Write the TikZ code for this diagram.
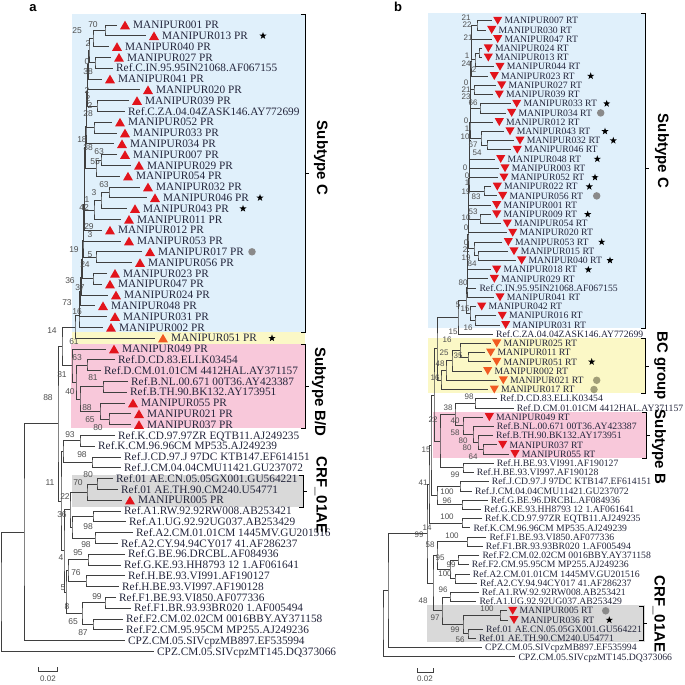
\documentclass[tikz,border=0pt]{standalone}
\usepackage{fontspec}
\setmainfont{Liberation Serif}
\setsansfont{Liberation Sans}
\usepackage{tikz}
\usetikzlibrary{calc,positioning,shapes.geometric}
\definecolor{treeline}{HTML}{3F3F3F}
\definecolor{seqtext}{HTML}{24263C}
\definecolor{bootgray}{HTML}{505050}
\definecolor{softblue}{HTML}{E0F0FB}
\definecolor{softyellow}{HTML}{FBF8C6}
\definecolor{softpink}{HTML}{F8C8DA}
\definecolor{softgray}{HTML}{D9D9D9}
\definecolor{isored}{HTML}{E2141C}
\definecolor{isoorange}{HTML}{F15A22}
\definecolor{dotgray}{HTML}{8A8A8A}
\definecolor{dotolive}{HTML}{A19E78}
\tikzset{
    branch/.style={draw=treeline,line width=0.8pt},
    seqa/.style={anchor=west,inner sep=0pt,text=seqtext,
      font=\fontsize{11.3}{12}\selectfont,text height=7.4pt,text depth=0pt},
    seqb/.style={anchor=west,inner sep=0pt,text=seqtext,
      font=\fontsize{9.7}{10}\selectfont,text height=6.4pt,text depth=0pt},
    upred/.style={regular polygon,regular polygon sides=3,fill=isored,
      minimum size=11.5pt,inner sep=0pt},
    uporange/.style={upred,fill=isoorange},
    downred/.style={regular polygon,regular polygon sides=3,shape border rotate=180,
      fill=isored,minimum size=10.5pt,inner sep=0pt},
    downorange/.style={downred,fill=isoorange},
    starmark/.style={star,star points=5,star point ratio=2.5,fill=black,
      minimum size=7.5pt,inner sep=0pt},
    dotmark/.style={circle,fill=dotgray,minimum size=7.5pt,inner sep=0pt},
    boot/.style={font=\sffamily\fontsize{8.5}{9}\selectfont,text=bootgray,inner sep=0pt},
    bootb/.style={boot,font=\sffamily\fontsize{8}{9}\selectfont},
    groupline/.style={draw=black,line width=0.9pt},
    grouplabel/.style={font=\sffamily\bfseries\fontsize{15}{16}\selectfont,
      rotate=-90,inner sep=0pt},
    panel/.style={font=\sffamily\bfseries\fontsize{13}{14}\selectfont,inner sep=0pt},
    scalebar/.style={draw=treeline,line width=0.8pt}
}
% rows of the two trees
\newcommand{\rowa}[1]{25+(#1-1)*10.8}
\newcommand{\rowb}[1]{20.7+(#1-1)*9.22}
% isolate and reference tips
\newcommand{\isoa}[5][upred]{%
  \coordinate (#2) at (#3,{\rowa{#4}});
  \node[#1] (#2-m) at ([xshift=8pt,yshift=-1.4pt]#2) {};
  \node[seqa] (#2-t) at ([xshift=16pt]#2) {#5};}
\newcommand{\refa}[4]{%
  \coordinate (#1) at (#2,{\rowa{#3}});
  \node[seqa] (#1-t) at ([xshift=3pt]#1) {#4};}
\newcommand{\isob}[5][downred]{%
  \coordinate (#2) at (#3,{\rowb{#4}});
  \node[#1] (#2-m) at ([xshift=6pt,yshift=1.3pt]#2) {};
  \node[seqb] (#2-t) at ([xshift=12.6pt]#2) {#5};}
\newcommand{\refb}[4]{%
  \coordinate (#1) at (#2,{\rowb{#3}});
  \node[seqb] (#1-t) at ([xshift=3pt]#1) {#4};}
% internal node half way between its two children
\newcommand{\clade}[4]{%
  \path let \p1=($(#3)!0.5!(#4)$) in coordinate (#1) at (#2pt,\y1);
  \draw[branch] (#3) -| (#1) |- (#4);}

\begin{document}
\begin{tikzpicture}[x=1pt,y=-1pt]
  \useasboundingbox (0,0) rectangle (685,685);
  \fill[white] (0,0) rectangle (685,685);

  % highlighted groups
  \fill[softblue] (72,14) rectangle (305,332);
  \fill[softyellow] (72,332) rectangle (305,344);
  \fill[softpink] (71,344) rectangle (305,428);
  \fill[softgray] (72,475) rectangle (303,507);
  \fill[softblue] (428,13) rectangle (645,328);
  \fill[softyellow] (428,338) rectangle (645,393);
  \fill[softpink] (433,412) rectangle (646,458);
  \fill[softgray] (427,605) rectangle (645,642);

  \node[panel] (pa) at (33,8) {a};
  \node[panel] (pb) at (398,7) {b};

  % ---- panel a: PR tree
  \isoa{pr001}{117}{1}{MANIPUR001 PR}
  \isoa{pr013}{146}{2}{MANIPUR013 PR}
  \isoa{pr040}{109}{3}{MANIPUR040 PR}
  \isoa{pr027}{111}{4}{MANIPUR027 PR}
  \refa{aCIN}{113}{5}{Ref.C.IN.95.95IN21068.AF067155}
  \isoa{pr041}{102}{6}{MANIPUR041 PR}
  \isoa{pr020}{140}{7}{MANIPUR020 PR}
  \isoa{pr039}{129}{8}{MANIPUR039 PR}
  \refa{aCZA}{125}{9}{Ref.C.ZA.04.04ZASK146.AY772699}
  \isoa{pr052}{112}{10}{MANIPUR052 PR}
  \isoa{pr033}{117}{11}{MANIPUR033 PR}
  \isoa{pr034}{114}{12}{MANIPUR034 PR}
  \isoa{pr007}{117}{13}{MANIPUR007 PR}
  \isoa{pr029}{131}{14}{MANIPUR029 PR}
  \isoa{pr054}{120}{15}{MANIPUR054 PR}
  \isoa{pr032}{140}{16}{MANIPUR032 PR}
  \isoa{pr046}{147}{17}{MANIPUR046 PR}
  \isoa{pr043}{127}{18}{MANIPUR043 PR}
  \isoa{pr011}{121}{19}{MANIPUR011 PR}
  \isoa{pr012}{102}{20}{MANIPUR012 PR}
  \isoa{pr053}{121}{21}{MANIPUR053 PR}
  \isoa{pr017}{142}{22}{MANIPUR017 PR}
  \isoa{pr056}{132}{23}{MANIPUR056 PR}
  \isoa{pr023}{107}{24}{MANIPUR023 PR}
  \isoa{pr047}{102}{25}{MANIPUR047 PR}
  \isoa{pr024}{108}{26}{MANIPUR024 PR}
  \isoa{pr048}{95}{27}{MANIPUR048 PR}
  \isoa{pr031}{107}{28}{MANIPUR031 PR}
  \isoa{pr002}{103}{29}{MANIPUR002 PR}
  \isoa[uporange]{pr051}{155}{30}{MANIPUR051 PR}
  \isoa{pr049}{106}{31}{MANIPUR049 PR}
  \refa{aD1}{115}{32}{Ref.D.CD.83.ELI.K03454}
  \refa{aD2}{101}{33}{Ref.D.CM.01.01CM 4412HAL.AY371157}
  \refa{aB1}{128}{34}{Ref.B.NL.00.671 00T36.AY423387}
  \refa{aB2}{127}{35}{Ref.B.TH.90.BK132.AY173951}
  \isoa{pr055}{125}{36}{MANIPUR055 PR}
  \isoa{pr021}{131}{37}{MANIPUR021 PR}
  \isoa{pr037}{131}{38}{MANIPUR037 PR}
  \refa{aK1}{115}{39}{Ref.K.CD.97.97ZR EQTB11.AJ249235}
  \refa{aK2}{95}{40}{Ref.K.CM.96.96CM MP535.AJ249239}
  \refa{aJ1}{121}{41}{Ref.J.CD.97.J 97DC KTB147.EF614151}
  \refa{aJ2}{121}{42}{Ref.J.CM.04.04CMU11421.GU237072}
  \refa{aAE1}{113}{43}{Ref.01 AE.CN.05.05GX001.GU564221}
  \refa{aAE2}{118}{44}{Ref.01 AE.TH.90.CM240.U54771}
  \isoa{pr005}{122}{45}{MANIPUR005 PR}
  \refa{aA11}{121}{46}{Ref.A1.RW.92.92RW008.AB253421}
  \refa{aA12}{126}{47}{Ref.A1.UG.92.92UG037.AB253429}
  \refa{aA21}{133}{48}{Ref.A2.CM.01.01CM 1445MV.GU201516}
  \refa{aA22}{118}{49}{Ref.A2.CY.94.94CY017 41.AF286237}
  \refa{aG1}{125}{50}{Ref.G.BE.96.DRCBL.AF084936}
  \refa{aG2}{121}{51}{Ref.G.KE.93.HH8793 12 1.AF061641}
  \refa{aH1}{125}{52}{Ref.H.BE.93.VI991.AF190127}
  \refa{aH2}{119}{53}{Ref.H.BE.93.VI997.AF190128}
  \refa{aF11}{116}{54}{Ref.F1.BE.93.VI850.AF077336}
  \refa{aF12}{131}{55}{Ref.F1.BR.93.93BR020 1.AF005494}
  \refa{aF21}{123}{56}{Ref.F2.CM.02.02CM 0016BBY.AY371158}
  \refa{aF22}{123}{57}{Ref.F2.CM.95.95CM MP255.AJ249236}
  \refa{aCPZ1}{125}{58}{CPZ.CM.05.SIVcpzMB897.EF535994}
  \refa{aCPZ2}{154}{59}{CPZ.CM.05.SIVcpzMT145.DQ373066}

  \clade{aC70}{105}{pr001}{pr013}
  \clade{aC25}{93}{aC70}{pr040}
  \clade{aC0}{95}{pr027}{aCIN}
  \clade{aC39}{97}{pr039}{aCZA}
  \clade{aC52}{94}{pr052}{pr033}
  \clade{aC07}{101}{pr007}{pr029}
  \clade{aC55}{96}{aC07}{pr054}
  \clade{aC32}{109}{pr032}{pr046}
  \clade{aC43}{101}{aC32}{pr043}
  \clade{aC11}{94}{aC43}{pr011}
  \clade{aC17}{96}{pr017}{pr056}
  \clade{aC23}{93}{pr023}{pr047}
  \clade{aS1}{89.0}{aC25}{aC0}
  \clade{aS2}{88.4}{aS1}{pr041}
  \clade{aS3}{87.8}{aS2}{pr020}
  \clade{aS4}{87.2}{aS3}{aC39}
  \clade{aS5}{86.6}{aS4}{aC52}
  \clade{aS6}{86.0}{aS5}{pr034}
  \clade{aS7}{85.4}{aS6}{aC55}
  \clade{aS8}{84.8}{aS7}{aC11}
  \clade{aS9}{84.2}{aS8}{pr012}
  \clade{aS10}{83.6}{aS9}{pr053}
  \clade{aS11}{83.0}{aS10}{aC17}
  \clade{aS12}{82.2}{aS11}{aC23}
  \clade{aS13}{81.4}{aS12}{pr024}
  \clade{aS14}{80.6}{aS13}{pr048}
  \clade{aS15}{79.8}{aS14}{pr031}
  \clade{aS16}{79.0}{aS15}{pr002}
  \clade{aCY}{75}{aS16}{pr051}
  \clade{aD}{87}{aD1}{aD2}
  \clade{aB}{103}{aB1}{aB2}
  \clade{aM1}{109}{pr021}{pr037}
  \clade{aM2}{100}{pr055}{aM1}
  \clade{aBM}{80}{aB}{aM2}
  \clade{aDBM}{76}{aD}{aBM}
  \clade{aBD}{72}{pr049}{aDBM}
  \clade{aCBD}{62}{aCY}{aBD}
  \clade{aAEr}{97}{aAE1}{aAE2}
  \clade{aAE}{87}{aAEr}{pr005}
  \clade{aA1}{93}{aA11}{aA12}
  \clade{aA2}{95}{aA21}{aA22}
  \clade{aA}{72}{aA1}{aA2}
  \clade{aAEA}{70}{aAE}{aA}
  \clade{aG}{88}{aG1}{aG2}
  \clade{aH}{86}{aH1}{aH2}
  \clade{aGH}{68}{aG}{aH}
  \clade{aF1}{105}{aF11}{aF12}
  \clade{aF2}{93}{aF21}{aF22}
  \clade{aF}{82}{aF1}{aF2}
  \clade{aGHF}{66}{aGH}{aF}
  \clade{aAG}{64}{aAEA}{aGHF}
  \clade{aJ}{92}{aJ1}{aJ2}
  \clade{aK}{80}{aK1}{aK2}
  \clade{aKJ}{63}{aK}{aJ}
  \clade{a11}{61}{aKJ}{aAG}
  \clade{aIG}{58}{aCBD}{a11}
  \clade{a88}{24}{aIG}{aCPZ1}
  \clade{aRoot}{1}{a88}{aCPZ2}

  \foreach \bx/\by/\bv [count=\k] in {93/25/70,77/31/25,88/44/2,87/62/0,88/72/38,
      87/91/2,88/98.5/2,90/106/2,88/114/28,82/140/18,88/148/38,99/152/63,95/162/55,
      104/185/63,94/193/3,87/200/1,84/208/42,89/227/29,90/235/3,74/250/19,90/255/5,
      85/265/24,70/281/36,80/288/37,67/303/73,77/312/16,52/331/14,74/342/61,
      77/358/63,62/375/31,93/378/81,70/392/40,48/398/88,87/408/88,90/420/65,
      98/428/80,70/435/93,82/455/98,88/475/80,78/483/70,50/483/11,65/497/22,
      62/515/36,88/527/98,86/545/98,78/553/95,61/558/4,76/573/76,63/588/5,
      97/597/99,67/607/8,73/622/65,83/633/87}
    \node[boot] (bsa\k) at (\bx,\by) {\bv};

  \foreach \iso/\px in {pr013/263,pr046/260,pr043/243,pr051/272}
    \node[starmark] (\iso-s) at (\px,0 |- \iso) {};
  \node[dotmark] (pr017-d) at (252,0 |- pr017) {};

  \draw[groupline] (301,14) -- (305,14) -- (305,332) -- (301,332);
  \draw[groupline] (305,173) -- (309,173);
  \draw[groupline] (301,344) -- (305,344) -- (305,428) -- (301,428);
  \draw[groupline] (305,386) -- (309,386);
  \draw[groupline] (299,475) -- (303,475) -- (303,507) -- (299,507);
  \draw[groupline] (303,491) -- (307,491);
  \node[grouplabel] (subCa) at (321,158) {Subtype C};
  \node[grouplabel] (subBDa) at (319,392) {Subtype B/D};
  \node[grouplabel] (crfa) at (321,495) {CRF\_01AE};

  \draw[scalebar] (38,667) -- (38,671) -- (57,671) -- (57,667);
  \node[bootb] (scalea) at (48,679) {0.02};

  % ---- panel b: RT tree
  \isob{rt007}{491.7}{1}{MANIPUR007 RT}
  \isob{rt030}{485.7}{2}{MANIPUR030 RT}
  \isob{rt047}{491.7}{3}{MANIPUR047 RT}
  \isob{rt024}{482.3}{4}{MANIPUR024 RT}
  \isob{rt013}{482.3}{5}{MANIPUR013 RT}
  \isob{rt044}{494}{6}{MANIPUR044 RT}
  \isob{rt023}{488.3}{7}{MANIPUR023 RT}
  \isob{rt027}{495.7}{8}{MANIPUR027 RT}
  \isob{rt039}{493.3}{9}{MANIPUR039 RT}
  \isob{rt033}{510.7}{10}{MANIPUR033 RT}
  \isob{rt034}{505.7}{11}{MANIPUR034 RT}
  \isob{rt012}{493.3}{12}{MANIPUR012 RT}
  \isob{rt043}{504}{13}{MANIPUR043 RT}
  \isob{rt032}{514}{14}{MANIPUR032 RT}
  \isob{rt046}{511.3}{15}{MANIPUR046 RT}
  \isob{rt048}{494.7}{16}{MANIPUR048 RT}
  \isob{rt003}{499}{17}{MANIPUR003 RT}
  \isob{rt052}{498}{18}{MANIPUR052 RT}
  \isob{rt022}{491.3}{19}{MANIPUR022 RT}
  \isob{rt056}{496.7}{20}{MANIPUR056 RT}
  \isob{rt001}{490.7}{21}{MANIPUR001 RT}
  \isob{rt009}{490.7}{22}{MANIPUR009 RT}
  \isob{rt054}{501.3}{23}{MANIPUR054 RT}
  \isob{rt020}{506.7}{24}{MANIPUR020 RT}
  \isob{rt053}{502.3}{25}{MANIPUR053 RT}
  \isob{rt015}{508}{26}{MANIPUR015 RT}
  \isob{rt040}{515.7}{27}{MANIPUR040 RT}
  \isob{rt018}{490.7}{28}{MANIPUR018 RT}
  \isob{rt029}{488.3}{29}{MANIPUR029 RT}
  \refb{bCIN}{476.3}{30}{Ref.C.IN.95.95IN21068.AF067155}
  \isob{rt041}{494}{31}{MANIPUR041 RT}
  \isob{rt042}{475.7}{32}{MANIPUR042 RT}
  \isob{rt016}{496.3}{33}{MANIPUR016 RT}
  \isob{rt031}{499.7}{34}{MANIPUR031 RT}
  \refb{bCZA}{493}{35}{Ref.C.ZA.04.04ZASK146.AY772699}
  \isob[downorange]{rt025}{490.7}{36}{MANIPUR025 RT}
  \isob[downorange]{rt011}{484.7}{37}{MANIPUR011 RT}
  \isob[downorange]{rt051}{490.7}{38}{MANIPUR051 RT}
  \isob[downorange]{rt002}{481.7}{39}{MANIPUR002 RT}
  \isob[downorange]{rt021}{497.3}{40}{MANIPUR021 RT}
  \isob[downorange]{rt017}{488.3}{41}{MANIPUR017 RT}
  \refb{bD1}{497}{42}{Ref.D.CD.83.ELI.K03454}
  \refb{bD2}{513.7}{43}{Ref.D.CM.01.01CM 4412HAL.AY371157}
  \isob{rt049}{483.3}{44}{MANIPUR049 RT}
  \refb{bB1}{493.7}{45}{Ref.B.NL.00.671 00T36.AY423387}
  \refb{bB2}{493}{46}{Ref.B.TH.90.BK132.AY173951}
  \isob{rt037}{496.7}{47}{MANIPUR037 RT}
  \isob{rt055}{509}{48}{MANIPUR055 RT}
  \refb{bH1}{493.7}{49}{Ref.H.BE.93.VI991.AF190127}
  \refb{bH2}{473.7}{50}{Ref.H.BE.93.VI997.AF190128}
  \refb{bJ1}{488.7}{51}{Ref.J.CD.97.J 97DC KTB147.EF614151}
  \refb{bJ2}{472}{52}{Ref.J.CM.04.04CMU11421.GU237072}
  \refb{bG1}{487.7}{53}{Ref.G.BE.96.DRCBL.AF084936}
  \refb{bG2}{481}{54}{Ref.G.KE.93.HH8793 12 1.AF061641}
  \refb{bK1}{482}{55}{Ref.K.CD.97.97ZR EQTB11.AJ249235}
  \refb{bK2}{470.3}{56}{Ref.K.CM.96.96CM MP535.AJ249239}
  \refb{bF11}{486.3}{57}{Ref.F1.BE.93.VI850.AF077336}
  \refb{bF12}{482.7}{58}{Ref.F1.BR.93.93BR020 1.AF005494}
  \refb{bF21}{479.3}{59}{Ref.F2.CM.02.02CM 0016BBY.AY371158}
  \refb{bF22}{468.7}{60}{Ref.F2.CM.95.95CM MP255.AJ249236}
  \refb{bA21}{469.7}{61}{Ref.A2.CM.01.01CM 1445MV.GU201516}
  \refb{bA22}{477}{62}{Ref.A2.CY.94.94CY017 41.AF286237}
  \refb{bA11}{478.7}{63}{Ref.A1.RW.92.92RW008.AB253421}
  \refb{bA12}{476.3}{64}{Ref.A1.UG.92.92UG037.AB253429}
  \isob{rt005}{506.7}{65}{MANIPUR005 RT}
  \isob{rt036}{508}{66}{MANIPUR036 RT}
  \refb{bAE1}{483}{67}{Ref.01 AE.CN.05.05GX001.GU564221}
  \refb{bAE2}{476}{68}{Ref.01 AE.TH.90.CM240.U54771}
  \refb{bCPZ1}{482}{69}{CPZ.CM.05.SIVcpzMB897.EF535994}
  \refb{bCPZ2}{515.3}{70}{CPZ.CM.05.SIVcpzMT145.DQ373066}

  \clade{bU1}{477}{rt007}{rt030}
  \clade{bU3a}{479}{rt024}{rt013}
  \clade{bU3}{475}{bU3a}{rt044}
  \clade{bU5}{474}{rt027}{rt039}
  \clade{bU6}{480}{rt033}{rt034}
  \clade{bU8a}{487}{rt032}{rt046}
  \clade{bU8}{481}{rt043}{bU8a}
  \clade{bU12}{484}{rt022}{rt056}
  \clade{bU14}{480}{rt009}{rt054}
  \clade{bU16a}{478}{rt015}{rt040}
  \clade{bU16}{474}{rt053}{bU16a}
  \clade{bU21a}{475}{rt016}{rt031}
  \clade{bU21}{470}{rt042}{bU21a}
  \clade{bS1}{471.5}{bU1}{rt047}
  \clade{bS2}{471.25}{bS1}{bU3}
  \clade{bS3}{471.0}{bS2}{rt023}
  \clade{bS4}{470.75}{bS3}{bU5}
  \clade{bS5}{470.5}{bS4}{bU6}
  \clade{bS6}{470.25}{bS5}{rt012}
  \clade{bS7}{470.0}{bS6}{bU8}
  \clade{bS8}{469.75}{bS7}{rt048}
  \clade{bS9}{469.5}{bS8}{rt003}
  \clade{bS10}{469.25}{bS9}{rt052}
  \clade{bS11}{469.0}{bS10}{bU12}
  \clade{bS12}{468.75}{bS11}{rt001}
  \clade{bS13}{468.5}{bS12}{bU14}
  \clade{bS14}{468.25}{bS13}{rt020}
  \clade{bS15}{468.0}{bS14}{bU16}
  \clade{bS16}{467.75}{bS15}{rt018}
  \clade{bS17}{467.5}{bS16}{rt029}
  \clade{bS18}{467.25}{bS17}{bCIN}
  \clade{bS19}{467.0}{bS18}{rt041}
  \clade{bS20}{466.0}{bS19}{bU21}
  \clade{bC}{458}{bS20}{bCZA}
  \clade{bV1}{468}{rt011}{rt051}
  \clade{bV2}{460}{rt025}{bV1}
  \clade{bV3}{452}{bV2}{rt002}
  \clade{bV4}{446}{bV3}{rt021}
  \clade{bV5}{441}{bV4}{rt017}
  \clade{bCBC}{437}{bC}{bV5}
  \clade{bD}{475}{bD1}{bD2}
  \clade{bBa}{483}{rt037}{rt055}
  \clade{bBb}{478}{bB2}{bBa}
  \clade{bBc}{473}{bB1}{bBb}
  \clade{bBd}{463}{rt049}{bBc}
  \clade{bDB}{455}{bD}{bBd}
  \clade{bH}{463}{bH1}{bH2}
  \clade{bDBH}{440}{bDB}{bH}
  \clade{bM1}{434}{bCBC}{bDBH}
  \clade{bJ}{460}{bJ1}{bJ2}
  \clade{bG}{462}{bG1}{bG2}
  \clade{bJG}{437}{bJ}{bG}
  \clade{bM2}{431}{bM1}{bJG}
  \clade{bK}{462}{bK1}{bK2}
  \clade{bM3}{429}{bM2}{bK}
  \clade{bF1}{467}{bF11}{bF12}
  \clade{bF2}{458}{bF21}{bF22}
  \clade{bA2}{455}{bA21}{bA22}
  \clade{bF2A2}{450}{bF2}{bA2}
  \clade{bM4}{437}{bF1}{bF2A2}
  \clade{bA1}{450}{bA11}{bA12}
  \clade{bAEa}{500}{rt005}{rt036}
  \clade{bAEb}{468}{bAE1}{bAE2}
  \clade{bAE}{463}{bAEa}{bAEb}
  \clade{bA1AE}{442}{bA1}{bAE}
  \clade{bM5}{433}{bM4}{bA1AE}
  \clade{bIG}{427}{bM3}{bM5}
  \clade{bOut}{388}{bIG}{bCPZ1}
  \clade{bRoot}{383}{bOut}{bCPZ2}

  \foreach \bx/\by/\bv [count=\k] in {466/18/21,467/25/22,468/38/21,467/55.5/1,
      466/64/24,474/70/2,466/83/0,466/90/21,466/97/23,473/103/66,466/120.5/0,
      467/129/1,465/137/10,473/145/67,477/153/54,465/168/0,467/176/0,467/183/1,
      466/192/19,476/197/83,473/212/53,466/218/10,466/228/0,466/243/0,465/250/2,
      466/258/19,472/264/84,463/283/80,458/305/5,465/309/15,453/332/15,
      468/328/16,447/340/16,444/353/25,458/356/35,440/364/48,435/378/16,
      469/397/98,448/408/38,433/420/22,455/421/40,455/433/58,463/441/80,
      467/448/80,473/457/64,426/450/15,455/475/99,423/483/41,447/492/100,
      447/501/96,447/517/100,427/528/14,419/535/99,452/536/100,430/545/58,
      440/558/95,451/565/99,445/574/100,443/590/96,423/601/48,487/609/100,
      435/618/97,455/630/99,460/640/56}
    \node[bootb] (bsb\k) at (\bx,\by) {\bv};

  \foreach \iso/\px in {rt023/590.7,rt033/606.7,rt043/605,rt032/613.3,
      rt048/597.3,rt052/595,rt022/589.3,rt009/587.7,rt053/601.7,rt040/610,
      rt018/588.3,rt051/591.7,rt036/609.3}
    \node[starmark] (\iso-s) at (\px,0 |- \iso) {};
  \foreach \iso/\px in {rt034/600.7,rt056/596.7,rt005/605.7}
    \node[dotmark] (\iso-d) at (\px,0 |- \iso) {};
  \foreach \iso/\px in {rt021/596.7,rt017/594}
    \node[dotmark,fill=dotolive] (\iso-d) at (\px,0 |- \iso) {};

  \draw[groupline] (641,13) -- (645,13) -- (645,328) -- (641,328);
  \draw[groupline] (645,168) -- (649,168);
  \draw[groupline] (641,338) -- (645,338) -- (645,393) -- (641,393);
  \draw[groupline] (645,366) -- (649,366);
  \draw[groupline] (642,412) -- (646,412) -- (646,458) -- (642,458);
  \draw[groupline] (646,435) -- (650,435);
  \draw[groupline] (639,606) -- (643,606) -- (643,640) -- (639,640);
  \draw[groupline] (643,623) -- (647,623);
  \node[grouplabel] (subCb) at (662,151) {Subtype C};
  \node[grouplabel] (bcb) at (661,366) {BC group};
  \node[grouplabel] (subBb) at (659,447) {Subtype B};
  \node[grouplabel] (crfb) at (659,614) {CRF\_01AE};

  \draw[scalebar] (417,668) -- (417,672) -- (433,672) -- (433,668);
  \node[bootb] (scaleb) at (425,679) {0.02};
\end{tikzpicture}
\end{document}
